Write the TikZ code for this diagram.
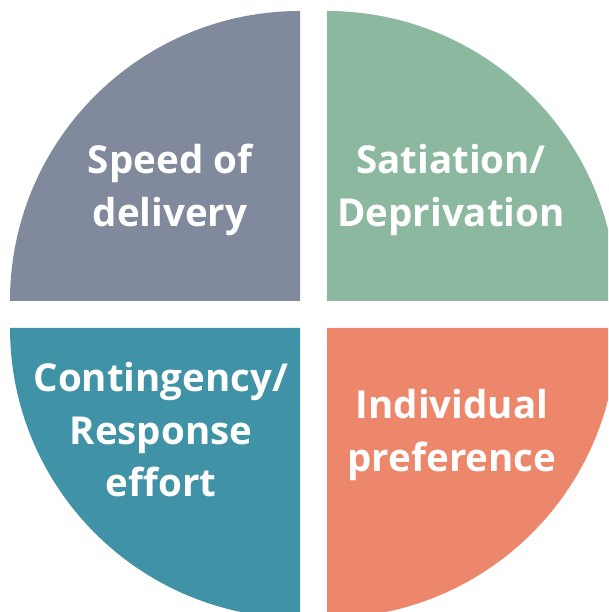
\documentclass[tikz,border=0pt]{standalone}
\usepackage{fontspec}
\setmainfont{Open Sans}
\definecolor{slate}{RGB}{128,138,156}
\definecolor{sage}{RGB}{141,184,160}
\definecolor{teal}{RGB}{64,146,166}
\definecolor{salmon}{RGB}{236,135,108}
\begin{document}
\begin{tikzpicture}[x=1pt,y=1pt,
  label/.style={text=white,align=center,font=\fontsize{38.5}{52.5}\selectfont\bfseries}]
\useasboundingbox (0,0) rectangle (608,612);
\clip (0,0) rectangle (608,612);
% four separated quarter discs
\fill[slate]  (300,311) -- (10,311) arc[start angle=180,end angle=90,radius=290] -- cycle;
\fill[sage]   (327,311) -- (327,601) arc[start angle=90,end angle=0,radius=290] -- cycle;
\fill[teal]   (300,284) -- (10,284) arc[start angle=180,end angle=270,radius=290] -- cycle;
\fill[salmon] (327,284) -- (617,284) arc[start angle=0,end angle=-90,radius=290] -- cycle;
% quadrant captions
\node[label] (speed) at (170,422) {Speed of\\delivery};
\node[label] (sat) at (451,422) {Satiation/\\Deprivation};
\node[label] (cont) at (161,182) {Contingency/\\Response\\effort};
\node[label] (pref) at (452,177) {Individual\\preference};
\end{tikzpicture}
\end{document}
